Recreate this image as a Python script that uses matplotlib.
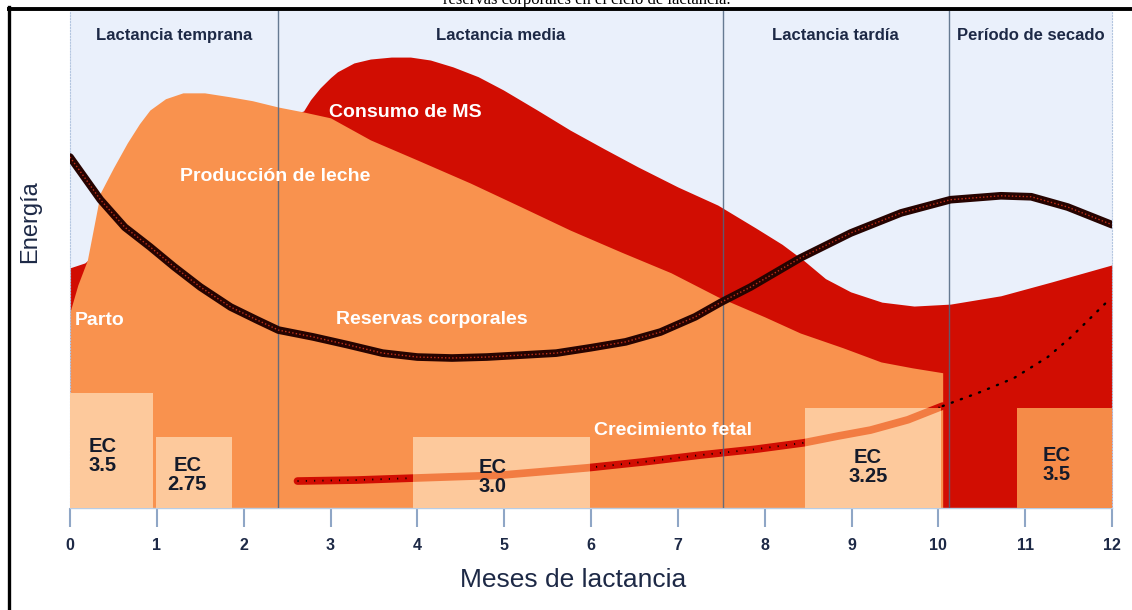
import matplotlib
matplotlib.use("Agg")
import matplotlib.pyplot as plt
from matplotlib.patches import Rectangle
from matplotlib.lines import Line2D

# ---------------- data (months, relative energy) ----------------
month_ticks = list(range(0, 13))
phase_names = ["Lactancia temprana", "Lactancia media", "Lactancia tardía", "Período de secado"]
phase_bounds = [0, 2.40, 7.52, 10.12, 12]

consumo_x = [0, 0.17, 0.5, 1.0, 1.5, 2.0, 2.4, 2.69, 2.77, 2.88, 3.0, 3.08, 3.27, 3.46, 3.70, 3.92, 4.15,
             4.41, 4.70, 4.99, 5.38, 5.76, 6.15, 6.54, 7.0, 7.46, 7.9, 8.2, 8.45, 8.7, 8.99, 9.35,
             9.72, 10.14, 10.72, 11.30, 12.0]
consumo_y = [49.0, 50.0, 55.0, 62.0, 69.0, 75.0, 79.5, 81.0, 83.3, 85.7, 87.8, 89.0, 90.8, 91.6, 92.0, 92.0, 91.4,
             90.0, 88.0, 85.3, 81.2, 77.1, 73.3, 69.6, 65.5, 61.8, 57.1, 53.8, 50.5, 46.8, 44.1, 42.0,
             41.2, 41.6, 43.3, 46.1, 49.6]

leche_x = [0, 0.09, 0.2, 0.35, 0.5, 0.66, 0.8, 0.92, 1.1, 1.3, 1.55, 1.84, 2.1, 2.4, 2.69, 3.0,
           3.46, 4.0, 4.61, 5.2, 5.76, 6.35, 6.92, 7.46, 8.0, 8.41, 8.9, 9.34, 9.7, 10.05, 10.05]
leche_y = [40.0, 45.5, 50.6, 64.3, 69.4, 74.5, 78.4, 81.2, 83.5, 84.7, 84.7, 83.9, 83.1, 81.8, 80.8, 79.6,
           75.1, 71.0, 66.3, 61.4, 56.7, 52.2, 48.0, 43.1, 39.0, 35.7, 32.7, 29.8, 28.6, 27.6, 0.0]

reservas_x = [0, 0.35, 0.63, 0.92, 1.2, 1.5, 1.85, 2.15, 2.4, 2.8, 3.2, 3.6, 4.0, 4.4, 4.8, 5.2,
              5.6, 6.0, 6.4, 6.8, 7.2, 7.5, 7.84, 8.41, 8.99, 9.57, 10.14, 10.72, 11.07, 11.49, 12.0]
reservas_y = [71.6, 62.9, 57.3, 53.3, 49.2, 45.1, 41.0, 38.4, 36.3, 34.9, 33.3, 31.6, 30.8, 30.6, 30.8, 31.2,
              31.6, 32.7, 33.9, 35.9, 39.0, 42.0, 45.1, 51.0, 56.1, 60.2, 62.9, 63.7, 63.5, 61.4, 57.8]

fetal_x = [2.62, 3.3, 3.95, 4.96, 5.96, 6.6, 7.26, 7.9, 8.45, 8.85, 9.22, 9.65, 10.05]
fetal_y = [5.5, 5.7, 6.1, 6.7, 8.2, 9.4, 10.8, 12.0, 13.3, 14.7, 15.9, 18.0, 20.8]

fetal_proj_x = [10.05, 10.49, 10.87, 11.26, 11.53, 11.99]
fetal_proj_y = [20.8, 23.7, 26.5, 30.8, 34.9, 42.9]

ec_values = ["3.5", "2.75", "3.0", "3.25", "3.5"]
ec_start = [0.0, 0.99, 3.95, 8.47, 10.91]
ec_end = [0.96, 1.87, 5.99, 10.03, 12.0]
ec_top = [23.5, 14.5, 14.5, 20.4, 20.4]

# ---------------- style ----------------
RED = "#d10d02"
ORANGE = "#f9924e"
PEACH = "#fdc99c"
BOX_DARK = "#f58b48"
BG = "#eaf0fb"
NAVY = "#1d2946"
BOLDF = ["Liberation Sans", "DejaVu Sans"]
WIDE = ["Liberation Sans", "DejaVu Sans"]

fig = plt.figure(figsize=(11.32, 6.10), dpi=100)
W, H = 1132.0, 610.0
ax = fig.add_axes([70 / W, 1 - 508 / H, (1112 - 70) / W, (508 - 11) / H])
ax.set_xlim(0, 12)
ax.set_ylim(0, 101.4)
ax.set_facecolor(BG)

# fills
ax.fill_between(consumo_x, consumo_y, 0, color=RED, lw=0, zorder=1)
ax.fill_between(leche_x, leche_y, 0, color=ORANGE, lw=0, zorder=2)

# fetal growth line (under boxes)
ax.plot(fetal_x, fetal_y, color=RED, lw=5.5, solid_capstyle="round", zorder=3)
ax.plot(fetal_x, fetal_y, color="black", lw=1.3, linestyle=(0, (0.6, 4)), zorder=3.1)

# EC boxes
box_colors = [PEACH, PEACH, PEACH, PEACH, BOX_DARK]
text_offsets = [(-0.11, 10.6), (-0.08, 6.7), (-0.1, 6.3), (-0.06, 8.4), (-0.09, 8.8)]
for i, lab in enumerate(ec_values):
    r = Rectangle((ec_start[i], 0), ec_end[i] - ec_start[i], ec_top[i],
                  facecolor=box_colors[i], edgecolor="none", zorder=4)
    ax.add_patch(r)
    # fetal line seen through the light boxes
    ln, = ax.plot(fetal_x, fetal_y, color="#f27c42", lw=5.5, zorder=4.5)
    ln.set_clip_path(r)
    cx = (ec_start[i] + ec_end[i]) / 2 + text_offsets[i][0]
    ax.text(cx, text_offsets[i][1], "EC\n" + lab, ha="center", va="center",
            fontsize=14.5, fontweight="bold", family=BOLDF, color="#141a2a",
            linespacing=1.0, zorder=6)

# projected fetal growth (dotted)
ax.plot(fetal_proj_x, fetal_proj_y, color="black", lw=1.7, linestyle=(0, (0.5, 3.6)),
        dash_capstyle="round", zorder=5)

# phase divider lines
for b in phase_bounds[1:-1]:
    ax.axvline(b, color="#4f6580", lw=1.0, alpha=0.85, zorder=5)

# body reserves curve
ax.plot(reservas_x, reservas_y, color="#260300", lw=5.5, solid_capstyle="round", zorder=7)
ax.plot(reservas_x, reservas_y, color="#c0301a", lw=1.0, linestyle=(0, (1, 1.6)), zorder=7.1)

# phase headers
for i, name in enumerate(phase_names):
    cx = (phase_bounds[i] + phase_bounds[i + 1]) / 2
    ax.text(cx, 96.5, name, ha="center", va="center", fontsize=12, fontweight="bold",
            family=WIDE, color=NAVY, zorder=8)

# white labels
lab_kw = dict(color="white", fontsize=14, fontweight="bold", family=BOLDF, va="center", zorder=8)
ax.text(3.86, 80.6, "Consumo de MS", ha="center", **lab_kw)
ax.text(2.36, 67.6, "Producción de leche", ha="center", **lab_kw)
ax.text(4.17, 38.4, "Reservas corporales", ha="center", **lab_kw)
ax.text(0.06, 38.2, "Parto", ha="left", **lab_kw)
ax.text(6.94, 15.9, "Crecimiento fetal", ha="center", **lab_kw)

# axes styling
ax.set_xticks(month_ticks)
ax.set_xticklabels([str(m) for m in month_ticks], fontsize=11.5, fontweight="bold",
                   family=BOLDF, color=NAVY)
ax.set_yticks([])
ax.tick_params(axis="x", length=13.5, width=1.5, color="#8fa6c6", pad=8)
ax.spines["top"].set_visible(False)
ax.spines["bottom"].set_color("#b8cce4")
ax.spines["bottom"].set_linewidth(1.0)
for s in ("left", "right"):
    ax.spines[s].set_color("#b4c6e0")
    ax.spines[s].set_linewidth(0.8)
    ax.spines[s].set_linestyle(":")

# axis titles
fig.text(573 / W, 1 - 580 / H, "Meses de lactancia", ha="center", va="center",
         fontsize=19, family=WIDE, color=NAVY)
fig.text(30 / W, 1 - 222 / H, "Energía", ha="center", va="center", rotation=90,
         fontsize=17, family=WIDE, color=NAVY)

# caption at the very top (cut off by the frame, as in the source)
fig.text(587 / W, 1 - 4 / H, "reservas corporales en el ciclo de lactancia.", ha="center",
         va="baseline", fontsize=12, family=["Liberation Serif", "DejaVu Serif"], color="black")

# black frame
fig.add_artist(Line2D([8.5 / W, 8.5 / W], [0, 1 - 7 / H], color="black", lw=2.4,
                      transform=fig.transFigure, solid_capstyle="projecting"))
fig.add_artist(Line2D([7 / W, 1], [1 - 9 / H, 1 - 9 / H], color="black", lw=2.8,
                      transform=fig.transFigure, solid_capstyle="butt"))

fig.savefig("out.png", dpi=100)
